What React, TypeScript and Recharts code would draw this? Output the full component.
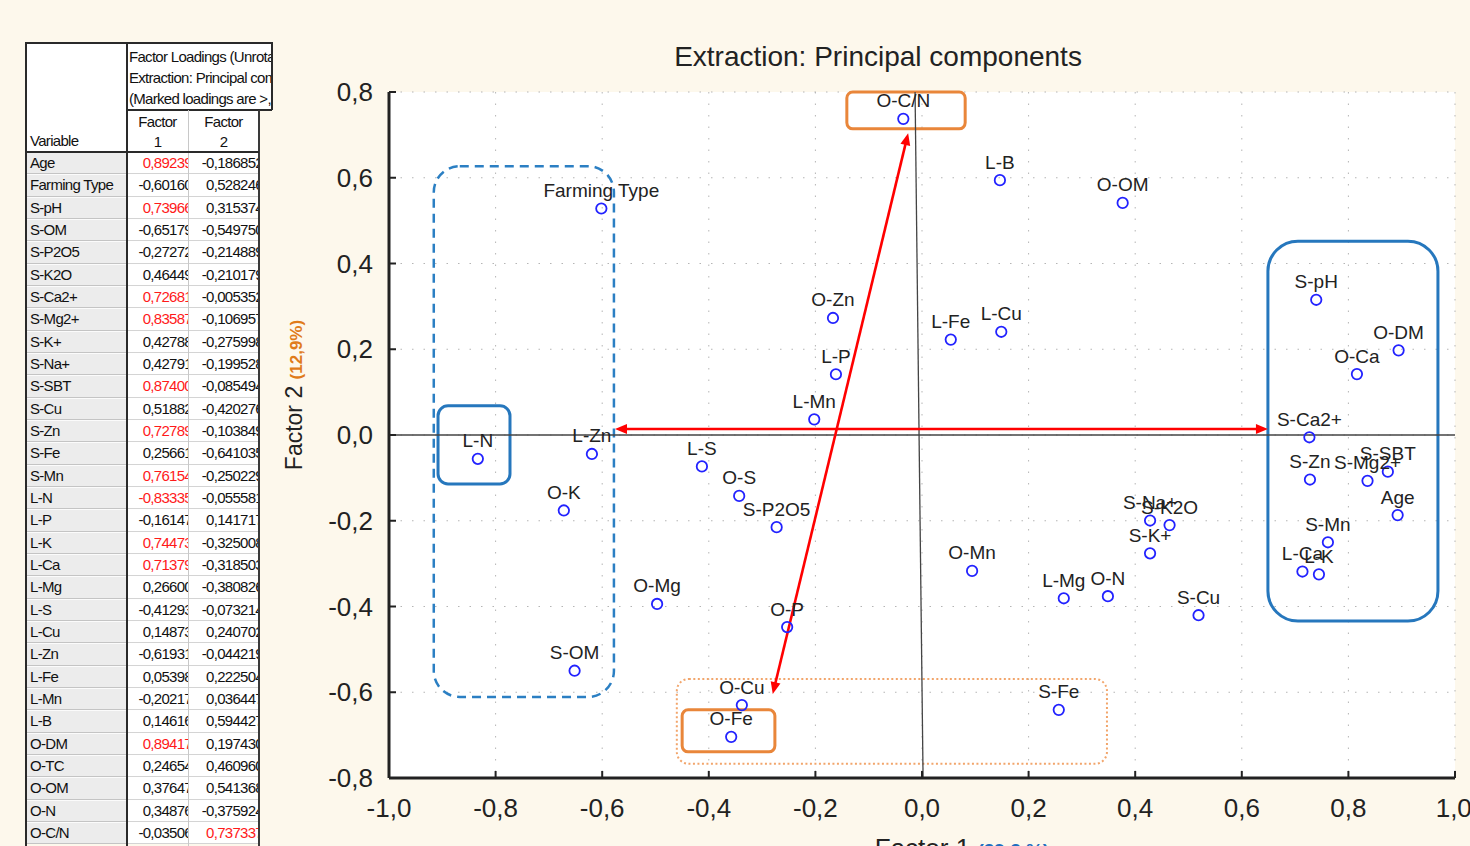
import React from 'react';
import {
  ScatterChart,
  Scatter,
  XAxis,
  YAxis,
  ZAxis,
  CartesianGrid,
  ReferenceLine,
  ReferenceArea,
  LabelList,
} from 'recharts';

// ---------------- data ----------------
const variables = [
  'Age', 'Farming Type', 'S-pH', 'S-OM', 'S-P2O5', 'S-K2O', 'S-Ca2+', 'S-Mg2+', 'S-K+', 'S-Na+',
  'S-SBT', 'S-Cu', 'S-Zn', 'S-Fe', 'S-Mn', 'L-N', 'L-P', 'L-K', 'L-Ca', 'L-Mg', 'L-S', 'L-Cu',
  'L-Zn', 'L-Fe', 'L-Mn', 'L-B', 'O-DM', 'O-TC', 'O-OM', 'O-N', 'O-C/N',
];
const factor1Loadings = [
  0.89239, -0.6016, 0.73966, -0.65179, -0.27272, 0.46449, 0.72681, 0.83587, 0.42788, 0.42791,
  0.874, 0.51882, 0.72789, 0.25661, 0.76154, -0.83335, -0.16147, 0.74473, 0.71379, 0.266,
  -0.41293, 0.14873, -0.61931, 0.05398, -0.20217, 0.14616, 0.89417, 0.24654, 0.37647, 0.34876,
  -0.03506,
];
const factor2Loadings = [
  -0.186852, 0.528246, 0.315374, -0.54975, -0.214889, -0.210179, -0.005352, -0.106957, -0.275998,
  -0.199528, -0.085494, -0.420276, -0.103849, -0.641035, -0.250229, -0.055581, 0.141717,
  -0.325008, -0.318503, -0.380826, -0.073214, 0.240702, -0.044219, 0.222504, 0.036447, 0.594427,
  0.19743, 0.46096, 0.541368, -0.375924, 0.737337,
];
// variables of the table that do not appear in the plot
const notPlotted = ['O-TC'];
// variables that appear in the plot but are not in the visible table
const extraNames = ['O-Ca', 'O-Zn', 'O-S', 'O-K', 'O-Mn', 'O-Mg', 'O-P', 'O-Cu', 'O-Fe'];
const extraFactor1 = [0.816, -0.167, -0.343, -0.672, 0.094, -0.497, -0.253, -0.338, -0.358];
const extraFactor2 = [0.142, 0.273, -0.142, -0.176, -0.317, -0.394, -0.448, -0.63, -0.704];

const xTicks = [-1, -0.8, -0.6, -0.4, -0.2, 0, 0.2, 0.4, 0.6, 0.8, 1];
const yTicks = [-0.8, -0.6, -0.4, -0.2, 0, 0.2, 0.4, 0.6, 0.8];

const chartTitle = 'Extraction: Principal components';
const xLabelMain = 'Factor 1';
const xLabelPct = '(29,2 %)';
const yLabelMain = 'Factor 2';
const yLabelPct = '(12,9%)';
const tableTitleLines = [
  'Factor Loadings (Unrotated)',
  'Extraction: Principal components',
  '(Marked loadings are >,700000)',
];
const markThreshold = 0.7;

// annotation groups, in data units
const groupBoxes = [
  { id: 'left', x1: -0.916, x2: -0.578, y1: -0.611, y2: 0.627, kind: 'blueDashed' },
  { id: 'ln', x1: -0.908, x2: -0.773, y1: -0.114, y2: 0.068, kind: 'blueSmall' },
  { id: 'right', x1: 0.649, x2: 0.968, y1: -0.434, y2: 0.452, kind: 'blueLarge' },
  { id: 'ocn', x1: -0.141, x2: 0.081, y1: 0.714, y2: 0.8, kind: 'orange' },
  { id: 'ofe', x1: -0.45, x2: -0.276, y1: -0.739, y2: -0.641, kind: 'orange' },
  { id: 'bottom', x1: -0.46, x2: 0.347, y1: -0.767, y2: -0.569, kind: 'orangeDotted' },
];
const arrowsFrom = [
  { x: -0.576, y: 0.014 },
  { x: -0.026, y: 0.704 },
];
const arrowsTo = [
  { x: 0.649, y: 0.014 },
  { x: -0.28, y: -0.604 },
];

// ---------------- styles ----------------
const CREAM = '#fdf8ec';
const FONT = '"Liberation Sans", Arial, Helvetica, sans-serif';
const boxStyles: Record<string, any> = {
  blueDashed: { stroke: '#2b7fc3', w: 2.5, dash: '9 6', r: 26 },
  blueSmall: { stroke: '#2677bd', w: 3, r: 10 },
  blueLarge: { stroke: '#2677bd', w: 3, r: 30 },
  orange: { stroke: '#e9863a', w: 3, r: 6 },
  orangeDotted: { stroke: '#f2a56b', w: 2, dash: '2 2.5', r: 12 },
};

const points = [
  ...variables
    .map((name, i) => ({ name, x: factor1Loadings[i], y: factor2Loadings[i] }))
    .filter((p) => !notPlotted.includes(p.name)),
  ...extraNames.map((name, i) => ({ name, x: extraFactor1[i], y: extraFactor2[i] })),
];

const fmtTick = (v: number) => v.toFixed(1).replace('.', ',');
const fmtNum = (v: number, d: number) => v.toFixed(d).replace('.', ',');

const makeBoxShape = (kind: string) => (props: any) => {
  const s = boxStyles[kind];
  const { x, y, width, height } = props;
  return (
    <rect
      x={x}
      y={y}
      width={width}
      height={height}
      rx={s.r}
      ry={s.r}
      fill="none"
      stroke={s.stroke}
      strokeWidth={s.w}
      strokeDasharray={s.dash}
    />
  );
};

const arrowShape = (props: any) => {
  const { x1, y1, x2, y2 } = props;
  const a = Math.atan2(y2 - y1, x2 - x1);
  const L = 12;
  const W = 5;
  const head = (px: number, py: number, ang: number) => {
    const bx = px - L * Math.cos(ang);
    const by = py - L * Math.sin(ang);
    return `${px},${py} ${bx + W * Math.sin(ang)},${by - W * Math.cos(ang)} ${bx - W * Math.sin(ang)},${by + W * Math.cos(ang)}`;
  };
  const sx = x1 + (L - 2) * Math.cos(a);
  const sy = y1 + (L - 2) * Math.sin(a);
  const ex = x2 - (L - 2) * Math.cos(a);
  const ey = y2 - (L - 2) * Math.sin(a);
  return (
    <g>
      <line x1={sx} y1={sy} x2={ex} y2={ey} stroke="#ff0000" strokeWidth={2.6} />
      <polygon points={head(x2, y2, a)} fill="#ff0000" />
      <polygon points={head(x1, y1, a + Math.PI)} fill="#ff0000" />
    </g>
  );
};

const pointShape = (props: any) => (
  <circle cx={props.cx} cy={props.cy} r={5.2} fill="none" stroke="#2222ff" strokeWidth={1.8} />
);

const pointLabel = (props: any) => {
  const { x, y, width, value } = props;
  return (
    <text x={x + width / 2} y={y - 7} textAnchor="middle" fontSize={19} fill="#222">
      {value}
    </text>
  );
};

const yLabel = (props: any) => {
  const vb = props.viewBox || props;
  const x = vb.x - 27;
  const y = vb.y + vb.height / 2 - 40;
  return (
    <text x={x} y={y} transform={`rotate(-90 ${x} ${y})`} textAnchor="middle" fontSize={23} fill="#222">
      {yLabelMain}{' '}
      <tspan fontSize={17} fontWeight="bold" fill="#e07b1a">
        {yLabelPct}
      </tspan>
    </text>
  );
};

const xLabel = (props: any) => {
  const vb = props.viewBox || props;
  const x = vb.x + vb.width / 2 + 40;
  const y = vb.y + 79;
  return (
    <text x={x} y={y} textAnchor="middle" fontSize={26} fill="#222">
      {xLabelMain}{' '}
      <tspan fontSize={19} fontWeight="bold" fill="#1f6fc0">
        {xLabelPct}
      </tspan>
    </text>
  );
};

function LoadingsTable() {
  const L = 26;
  const C1 = 127;
  const C2 = 188;
  const C3 = 259;
  const HR = 272;
  const T = 43;
  const H1 = 110;
  const H2 = 152;
  const RH = 22.33;
  const dark = '#2a2a2a';
  const abs = (s: React.CSSProperties): React.CSSProperties => ({ position: 'absolute', ...s });
  const bottom = H2 + RH * variables.length;
  return (
    <div
      style={{
        position: 'absolute',
        left: 0,
        top: 0,
        width: 1470,
        height: 846,
        pointerEvents: 'none',
        fontSize: 15,
        letterSpacing: -0.7,
        color: '#111',
        fontFamily: FONT,
      }}
    >
      <div style={abs({ left: L, top: T, width: HR - L, height: H1 - T, background: '#fff' })} />
      <div style={abs({ left: L, top: H1, width: C3 - L, height: H2 - H1, background: '#fff' })} />
      <div
        style={abs({
          left: C1 + 2,
          top: T + 3,
          width: HR - C1 - 3,
          height: H1 - T - 4,
          overflow: 'hidden',
          whiteSpace: 'nowrap',
          lineHeight: '21px',
        })}
      >
        {tableTitleLines.map((t) => (
          <div key={t}>{t}</div>
        ))}
      </div>
      {[1, 2].map((k, idx) => (
        <div
          key={k}
          style={abs({
            left: idx === 0 ? C1 : C2,
            top: H1 + 2,
            width: idx === 0 ? C2 - C1 : C3 - C2,
            textAlign: 'center',
            lineHeight: '20px',
          })}
        >
          <div>Factor</div>
          <div>{k}</div>
        </div>
      ))}
      <div style={abs({ left: L + 4, top: H2 - 21, lineHeight: '20px' })}>Variable</div>
      {variables.map((name, i) => {
        const top = H2 + i * RH;
        const v1 = factor1Loadings[i];
        const v2 = factor2Loadings[i];
        return (
          <React.Fragment key={name}>
            <div
              style={abs({
                left: L,
                top,
                width: C1 - L,
                height: RH,
                background: '#ececec',
                borderTop: '1px solid #fbfbfb',
                borderBottom: '1px solid #c4c4c4',
                boxSizing: 'border-box',
                lineHeight: `${RH - 2}px`,
                paddingLeft: 4,
                whiteSpace: 'nowrap',
                overflow: 'hidden',
              })}
            >
              {name}
            </div>
            <div
              style={abs({
                left: C1,
                top,
                width: C2 - C1,
                height: RH,
                background: '#fff',
                borderBottom: '1px solid #d4d4d4',
                boxSizing: 'border-box',
                overflow: 'hidden',
              })}
            >
              <div
                style={abs({
                  right: -4,
                  top: 0,
                  lineHeight: `${RH}px`,
                  whiteSpace: 'nowrap',
                  color: Math.abs(v1) > markThreshold ? '#ff1a1a' : '#111',
                })}
              >
                {fmtNum(v1, 5)}
              </div>
            </div>
            <div
              style={abs({
                left: C2 + 1,
                top,
                width: C3 - C2 - 1,
                height: RH,
                background: '#fff',
                borderBottom: '1px solid #d4d4d4',
                boxSizing: 'border-box',
                overflow: 'hidden',
              })}
            >
              <div
                style={abs({
                  right: -4,
                  top: 0,
                  lineHeight: `${RH}px`,
                  whiteSpace: 'nowrap',
                  color: Math.abs(v2) > markThreshold ? '#ff1a1a' : '#111',
                })}
              >
                {fmtNum(v2, 6)}
              </div>
            </div>
          </React.Fragment>
        );
      })}
      {/* grid lines of the table */}
      <div style={abs({ left: L - 1, top: T - 1, width: HR - L + 1, height: 2, background: dark })} />
      <div style={abs({ left: L - 1, top: T - 1, width: 2, height: bottom - T + 4, background: dark })} />
      <div style={abs({ left: C1 - 1, top: T - 1, width: 2, height: bottom - T + 4, background: dark })} />
      <div style={abs({ left: HR - 1, top: T - 1, width: 1.5, height: H1 - T + 1, background: dark })} />
      <div style={abs({ left: C1, top: H1 - 1, width: HR - C1, height: 1.5, background: dark })} />
      <div style={abs({ left: C2, top: H1, width: 1, height: bottom - H1 + 4, background: '#c8c8c8' })} />
      <div style={abs({ left: C3 - 1, top: H1, width: 2, height: bottom - H1 + 4, background: '#3a3a3a' })} />
      <div style={abs({ left: L - 1, top: H2 - 1, width: C3 - L + 1, height: 2, background: dark })} />
    </div>
  );
}

export default function App() {
  return (
    <div
      style={{
        position: 'absolute',
        left: 0,
        top: 0,
        width: 1470,
        height: 846,
        background: CREAM,
        overflow: 'hidden',
        fontFamily: FONT,
      }}
    >
      <div style={{ position: 'absolute', left: 0, top: 0 }}>
        <ScatterChart width={1470} height={846} margin={{ top: 92, right: 15, bottom: 0, left: 329 }}>
          <CartesianGrid fill="#ffffff" stroke="#b5b5b5" strokeDasharray="1.5 10" />
          <XAxis
            type="number"
            dataKey="x"
            domain={[-1, 1]}
            ticks={xTicks}
            allowDataOverflow
            height={68}
            tickFormatter={fmtTick}
            tick={{ fontSize: 26, fill: '#222' }}
            tickSize={-7}
            tickMargin={28}
            axisLine={{ stroke: '#222', strokeWidth: 3 }}
            tickLine={{ stroke: '#222', strokeWidth: 2 }}
            label={xLabel}
          />
          <XAxis
            xAxisId="top"
            orientation="top"
            type="number"
            domain={[-1, 1]}
            ticks={xTicks}
            allowDataOverflow
            height={0}
            tick={false}
            tickSize={-7}
            axisLine={{ stroke: '#222', strokeWidth: 3 }}
            tickLine={{ stroke: '#222', strokeWidth: 2 }}
          />
          <YAxis
            type="number"
            dataKey="y"
            domain={[-0.8, 0.8]}
            ticks={yTicks}
            allowDataOverflow
            width={60}
            tickFormatter={fmtTick}
            tick={{ fontSize: 26, fill: '#222' }}
            tickSize={-7}
            tickMargin={23}
            axisLine={{ stroke: '#222', strokeWidth: 3 }}
            tickLine={{ stroke: '#222', strokeWidth: 2 }}
            label={yLabel}
          />
          <YAxis
            yAxisId="right"
            orientation="right"
            type="number"
            domain={[-0.8, 0.8]}
            ticks={yTicks}
            allowDataOverflow
            width={0}
            tick={false}
            tickSize={-7}
            axisLine={{ stroke: '#333', strokeWidth: 3 }}
            tickLine={{ stroke: '#333', strokeWidth: 2 }}
          />
          <ZAxis range={[64, 64]} />
          <ReferenceLine y={0} stroke="#444" strokeWidth={1.3} />
          <ReferenceLine
            segment={[
              { x: -0.013, y: 0.8 },
              { x: 0.002, y: -0.8 },
            ]}
            stroke="#444"
            strokeWidth={1.3}
          />
          {groupBoxes.map((b) => (
            <ReferenceArea
              key={b.id}
              x1={b.x1}
              x2={b.x2}
              y1={b.y1}
              y2={b.y2}
              shape={makeBoxShape(b.kind)}
            />
          ))}
          {arrowsFrom.map((f, i) => (
            <ReferenceLine key={`arrow-${i}`} segment={[f, arrowsTo[i]]} shape={arrowShape} />
          ))}
          <Scatter data={points} shape={pointShape} isAnimationActive={false}>
            <LabelList dataKey="name" content={pointLabel} />
          </Scatter>
        </ScatterChart>
      </div>
      <div
        style={{
          position: 'absolute',
          left: 478,
          top: 41,
          width: 800,
          textAlign: 'center',
          fontSize: 28,
          lineHeight: '32px',
          color: '#222',
        }}
      >
        {chartTitle}
      </div>
      <LoadingsTable />
    </div>
  );
}
